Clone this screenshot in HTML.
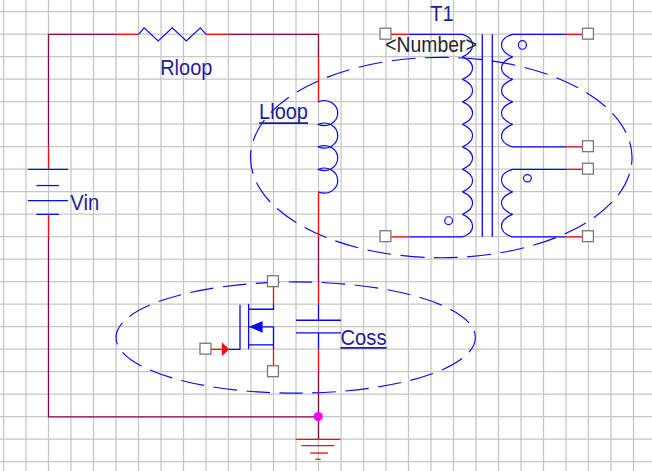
<!DOCTYPE html>
<html><head><meta charset="utf-8"><title>Schematic</title>
<style>html,body{margin:0;padding:0;background:#fff;overflow:hidden}svg{display:block;font-family:"Liberation Sans",Arial,sans-serif}</style>
</head><body>
<svg width="652" height="471" viewBox="0 0 652 471">
<rect width="652" height="471" fill="#fff"/>
<path d="M3.5,0V471M26.0,0V471M48.5,0V471M71.0,0V471M93.5,0V471M116.0,0V471M138.5,0V471M161.0,0V471M183.5,0V471M206.0,0V471M228.5,0V471M251.0,0V471M273.5,0V471M296.0,0V471M318.5,0V471M341.0,0V471M363.5,0V471M386.0,0V471M408.5,0V471M431.0,0V471M453.5,0V471M476.0,0V471M498.5,0V471M521.0,0V471M543.5,0V471M566.0,0V471M588.5,0V471M611.0,0V471M633.5,0V471M0,11.7H652M0,34.2H652M0,56.7H652M0,79.2H652M0,101.7H652M0,124.2H652M0,146.7H652M0,169.2H652M0,191.7H652M0,214.2H652M0,236.7H652M0,259.2H652M0,281.7H652M0,304.2H652M0,326.7H652M0,349.2H652M0,371.7H652M0,394.2H652M0,416.7H652M0,439.2H652M0,461.7H652" stroke="#c6c6c6" stroke-width="1.25" fill="none"/>
<g transform="translate(0,0.15)">
<ellipse cx="441.25" cy="157.4" rx="190.75" ry="100.2" fill="none" stroke="#0808ff" stroke-width="1.15" stroke-dasharray="23.94 9.5" stroke-dashoffset="16.69"/>
<ellipse cx="295.7" cy="337.4" rx="179.7" ry="55.6" fill="none" stroke="#0808ff" stroke-width="1.15" stroke-dasharray="23.483 9.5" stroke-dashoffset="7.23"/>
<path d="M48.5,146.7 L48.5,34.2 L116.0,34.2" stroke="#860850" stroke-width="1.3" fill="none" />
<path d="M228.5,34.2 L318.5,34.2 L318.5,56.7" stroke="#860850" stroke-width="1.3" fill="none" />
<path d="M318.5,236.7 L318.5,281.7" stroke="#860850" stroke-width="1.3" fill="none" />
<path d="M318.5,371.7 L318.5,439.2" stroke="#860850" stroke-width="1.3" fill="none" />
<path d="M48.5,236.7 L48.5,416.7 L318.5,416.7" stroke="#860850" stroke-width="1.3" fill="none" />
<path d="M116.0,34.2 L138.5,34.2" stroke="#ff0808" stroke-width="1.3" fill="none" />
<path d="M206.0,34.2 L228.5,34.2" stroke="#ff0808" stroke-width="1.3" fill="none" />
<path d="M138.5,34.2 L144.12,27.7 L158.19,40.7 L172.25,27.7 L186.31,40.7 L200.38,27.7 L206.0,34.2" stroke="#0808ff" stroke-width="1.2" fill="none" stroke-linejoin="miter"/>
<path d="M48.5,146.7 L48.5,169.2" stroke="#ff0808" stroke-width="1.3" fill="none" />
<path d="M48.5,214.2 L48.5,236.7" stroke="#ff0808" stroke-width="1.3" fill="none" />
<path d="M27.9,169.2 L67.9,169.2" stroke="#0808ff" stroke-width="1.3" fill="none" />
<path d="M36.4,185.4 L59.1,185.4" stroke="#0808ff" stroke-width="1.3" fill="none" />
<path d="M27.9,200.4 L67.9,200.4" stroke="#0808ff" stroke-width="1.3" fill="none" />
<path d="M36.4,214.2 L59.1,214.2" stroke="#0808ff" stroke-width="1.3" fill="none" />
<path d="M318.5,56.7 L318.5,101.7" stroke="#ff0808" stroke-width="1.3" fill="none" />
<path d="M318.5,191.7 L318.5,236.7" stroke="#ff0808" stroke-width="1.3" fill="none" />
<path d="M318.5,101.7A13.4,12.5 0 1 1 318.5,124.2A13.4,12.5 0 1 1 318.5,146.7A13.4,12.5 0 1 1 318.5,169.2A13.4,12.5 0 1 1 318.5,191.7" stroke="#0808ff" stroke-width="1.2" fill="none"/>
<path d="M318.5,281.7 L318.5,304.2" stroke="#ff0808" stroke-width="1.3" fill="none" />
<path d="M318.5,349.2 L318.5,371.7" stroke="#ff0808" stroke-width="1.3" fill="none" />
<path d="M318.5,304.2 L318.5,320.1" stroke="#0808ff" stroke-width="1.3" fill="none" />
<path d="M318.5,332.8 L318.5,349.2" stroke="#0808ff" stroke-width="1.3" fill="none" />
<path d="M296.0,320.1 L341.0,320.1" stroke="#0808ff" stroke-width="1.3" fill="none" />
<path d="M296.0,332.8 L341.0,332.8" stroke="#0808ff" stroke-width="1.3" fill="none" />
<path d="M295.7,439.2 L340.5,439.2" stroke="#ff0808" stroke-width="1.3" fill="none" />
<path d="M301.5,445.5 L334.1,445.5" stroke="#ff0808" stroke-width="1.3" fill="none" />
<path d="M310.2,452.9 L327.9,452.9" stroke="#ff0808" stroke-width="1.3" fill="none" />
<path d="M315.4,459.2 L320.6,459.2" stroke="#ff0808" stroke-width="1.3" fill="none" />
<circle cx="318.2" cy="416.4" r="4.6" fill="#ff00ff"/>
<path d="M273.5,281.7 L273.5,304.2" stroke="#ff0808" stroke-width="1.3" fill="none" />
<path d="M273.5,349.2 L273.5,371.7" stroke="#ff0808" stroke-width="1.3" fill="none" />
<path d="M273.5,304.2 L273.5,309.1 L248.6,309.1" stroke="#0808ff" stroke-width="1.3" fill="none" />
<path d="M248.6,303.7 L248.6,349" stroke="#0808ff" stroke-width="1.3" fill="none" />
<path d="M240,304.5 L240,349.2 L228.5,349.2" stroke="#0808ff" stroke-width="1.3" fill="none" />
<path d="M248.6,326.7 L273.5,326.7 L273.5,349.2" stroke="#0808ff" stroke-width="1.3" fill="none" />
<path d="M248.6,344.7 L273.5,344.7" stroke="#0808ff" stroke-width="1.3" fill="none" />
<path d="M249,326.7 L262.6,320.8 L262.6,332.6Z" fill="#0808ff"/>
<path d="M206.0,349.2 L223.5,349.2" stroke="#ff0808" stroke-width="1.3" fill="none" />
<path d="M221.8,342.2 L221.8,356.2 L229.2,349.2Z" fill="#ff0808"/>
<rect x="267.5" y="275.59999999999997" width="10.9" height="10.9" fill="#fff" stroke="#787878" stroke-width="1.3"/>
<rect x="267.5" y="365.59999999999997" width="10.9" height="10.9" fill="#fff" stroke="#787878" stroke-width="1.3"/>
<rect x="200.0" y="343.09999999999997" width="10.9" height="10.9" fill="#fff" stroke="#787878" stroke-width="1.3"/>
<path d="M386.0,34.2 L408.5,34.2" stroke="#ff0808" stroke-width="1.3" fill="none" />
<path d="M386.0,236.7 L408.5,236.7" stroke="#ff0808" stroke-width="1.3" fill="none" />
<path d="M566.0,34.2 L588.5,34.2" stroke="#ff0808" stroke-width="1.3" fill="none" />
<path d="M566.0,146.7 L588.5,146.7" stroke="#ff0808" stroke-width="1.3" fill="none" />
<path d="M566.0,169.2 L588.5,169.2" stroke="#ff0808" stroke-width="1.3" fill="none" />
<path d="M566.0,236.7 L588.5,236.7" stroke="#ff0808" stroke-width="1.3" fill="none" />
<path d="M482.3,34.2 L482.3,236.7" stroke="#0808ff" stroke-width="1.3" fill="none" />
<path d="M492.3,34.2 L492.3,236.7" stroke="#0808ff" stroke-width="1.3" fill="none" />
<path d="M408.5,34.2H462.6C475.93,38.7 475.93,50.7 462.6,56.7C475.93,62.7 475.93,73.2 462.6,79.2C475.93,85.2 475.93,95.7 462.6,101.7C475.93,107.7 475.93,118.2 462.6,124.2C475.93,130.2 475.93,140.7 462.6,146.7C475.93,152.7 475.93,163.2 462.6,169.2C475.93,175.2 475.93,185.7 462.6,191.7C475.93,197.7 475.93,208.2 462.6,214.2C475.93,220.2 475.93,232.2 462.6,236.7H408.5" stroke="#0808ff" stroke-width="1.2" fill="none" stroke-linejoin="round"/>
<path d="M566.0,34.2H512.5C497.83,38.7 497.83,50.7 512.5,56.7C497.83,62.7 497.83,73.2 512.5,79.2C497.83,85.2 497.83,95.7 512.5,101.7C497.83,107.7 497.83,118.2 512.5,124.2C497.83,130.2 497.83,142.2 512.5,146.7H566.0" stroke="#0808ff" stroke-width="1.2" fill="none" stroke-linejoin="round"/>
<path d="M566.0,169.2H512.5C497.83,173.7 497.83,185.7 512.5,191.7C497.83,197.7 497.83,208.2 512.5,214.2C497.83,220.2 497.83,232.2 512.5,236.7H566.0" stroke="#0808ff" stroke-width="1.2" fill="none" stroke-linejoin="round"/>
<ellipse cx="522.4" cy="44.8" rx="4.0" ry="4.3" fill="none" stroke="#0808ff" stroke-width="1.2"/>
<ellipse cx="527.4" cy="178.1" rx="3.9" ry="3.7" fill="none" stroke="#0808ff" stroke-width="1.2"/>
<ellipse cx="448.6" cy="220.5" rx="3.9" ry="3.9" fill="none" stroke="#0808ff" stroke-width="1.2"/>
<rect x="380.0" y="28.1" width="10.9" height="10.9" fill="#fff" stroke="#787878" stroke-width="1.3"/>
<rect x="380.0" y="230.6" width="10.9" height="10.9" fill="#fff" stroke="#787878" stroke-width="1.3"/>
<rect x="582.5" y="28.1" width="10.9" height="10.9" fill="#fff" stroke="#787878" stroke-width="1.3"/>
<rect x="582.5" y="140.6" width="10.9" height="10.9" fill="#fff" stroke="#787878" stroke-width="1.3"/>
<rect x="582.5" y="163.1" width="10.9" height="10.9" fill="#fff" stroke="#787878" stroke-width="1.3"/>
<rect x="582.5" y="230.6" width="10.9" height="10.9" fill="#fff" stroke="#787878" stroke-width="1.3"/>
</g>
<text x="160.2" y="74.9" font-size="21.8" fill="#1e1e9a" textLength="52.2" lengthAdjust="spacingAndGlyphs">Rloop</text>
<text x="70.3" y="209.9" font-size="21.8" fill="#1e1e9a" textLength="28.9" lengthAdjust="spacingAndGlyphs">Vin</text>
<text x="259.1" y="119.3" font-size="21.8" fill="#1e1e9a" textLength="48.9" lengthAdjust="spacingAndGlyphs">Lloop</text>
<path d="M259.1,123.2H308" stroke="#1e1e9a" stroke-width="1.7"/>
<text x="340.4" y="345" font-size="21.8" fill="#1e1e9a" textLength="46.2" lengthAdjust="spacingAndGlyphs">Coss</text>
<path d="M340.4,347.9H386.6" stroke="#1e1e9a" stroke-width="1.7"/>
<text x="430.2" y="20.9" font-size="21.4" fill="#1e1e9a" textLength="23.3" lengthAdjust="spacingAndGlyphs">T1</text>
<text x="385.3" y="51.8" font-size="21.2" fill="#26262e" textLength="91.4" lengthAdjust="spacingAndGlyphs">&lt;Number&gt;</text>
</svg>
</body></html>
